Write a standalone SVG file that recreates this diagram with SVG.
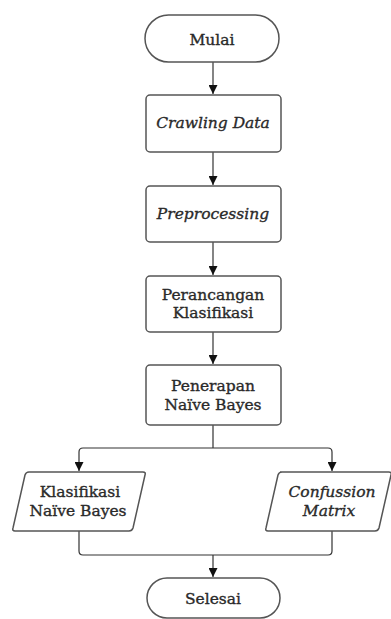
<svg xmlns="http://www.w3.org/2000/svg" width="391" height="619" viewBox="0 0 391 619">
<style>
.s{fill:#fff;stroke:#555;stroke-width:1.5}
.t{font-family:"DejaVu Serif",serif;font-size:15.5px;fill:#2a2a2a;stroke:#2a2a2a;stroke-width:0.35;text-anchor:middle}
.i{font-style:italic}
.c{fill:none;stroke:#333;stroke-width:1.2}
</style>
<defs>
<marker id="a" viewBox="0 0 10 10" refX="10" refY="5" markerWidth="9" markerHeight="9" markerUnits="userSpaceOnUse" orient="auto">
<path d="M0,0L10,5L0,10z" fill="#111"/>
</marker>
</defs>
<rect width="391" height="619" fill="#fff"/>
<g id="connectors">
<path class="c" d="M213,62V94" marker-end="url(#a)"/>
<path class="c" d="M213,152V185" marker-end="url(#a)"/>
<path class="c" d="M213,242V275" marker-end="url(#a)"/>
<path class="c" d="M213,332V364" marker-end="url(#a)"/>
<path class="c" d="M213,425V448M213,448H83Q79,448 79,452V471" marker-end="url(#a)"/>
<path class="c" d="M213,448H328Q332,448 332,452V471" marker-end="url(#a)"/>
<path class="c" d="M79,531V551Q79,555 83,555H328Q332,555 332,551V531"/>
<path class="c" d="M213,555V577" marker-end="url(#a)"/>
</g>
<g id="mulai">
<rect class="s" x="145" y="15" width="134" height="47" rx="23.5"/>
<text class="t" x="212" y="45">Mulai</text>
</g>
<g id="crawling">
<rect class="s" x="146" y="95" width="135" height="57" rx="4"/>
<text class="t i" x="213" y="128">Crawling Data</text>
</g>
<g id="preprocessing">
<rect class="s" x="146" y="186" width="135" height="56" rx="4"/>
<text class="t i" x="213" y="219">Preprocessing</text>
</g>
<g id="perancangan">
<rect class="s" x="146" y="276" width="135" height="56" rx="4"/>
<text class="t" x="213" y="300">Perancangan</text>
<text class="t" x="213" y="318">Klasifikasi</text>
</g>
<g id="penerapan">
<rect class="s" x="146" y="365" width="135" height="60" rx="4"/>
<text class="t" x="213" y="391">Penerapan</text>
<text class="t" x="213" y="410">Naïve Bayes</text>
</g>
<g id="klasifikasi">
<path class="s" d="M36,472H143Q146,472 145,475L133,528Q132,531 129,531H15Q12,531 13,528L25,475Q26,472 29,472Z"/>
<text class="t" x="80" y="497">Klasifikasi</text>
<text class="t" x="78" y="516">Naïve Bayes</text>
</g>
<g id="confussion">
<path class="s" d="M280,472H389Q392,472 391,475L379,528Q378,531 375,531H268Q265,531 266,528L278,475Q279,472 282,472Z"/>
<text class="t i" x="332" y="497">Confussion</text>
<text class="t i" x="329" y="516">Matrix</text>
</g>
<g id="selesai">
<rect class="s" x="147" y="578" width="133" height="40" rx="20"/>
<text class="t" x="213" y="604">Selesai</text>
</g>
</svg>
